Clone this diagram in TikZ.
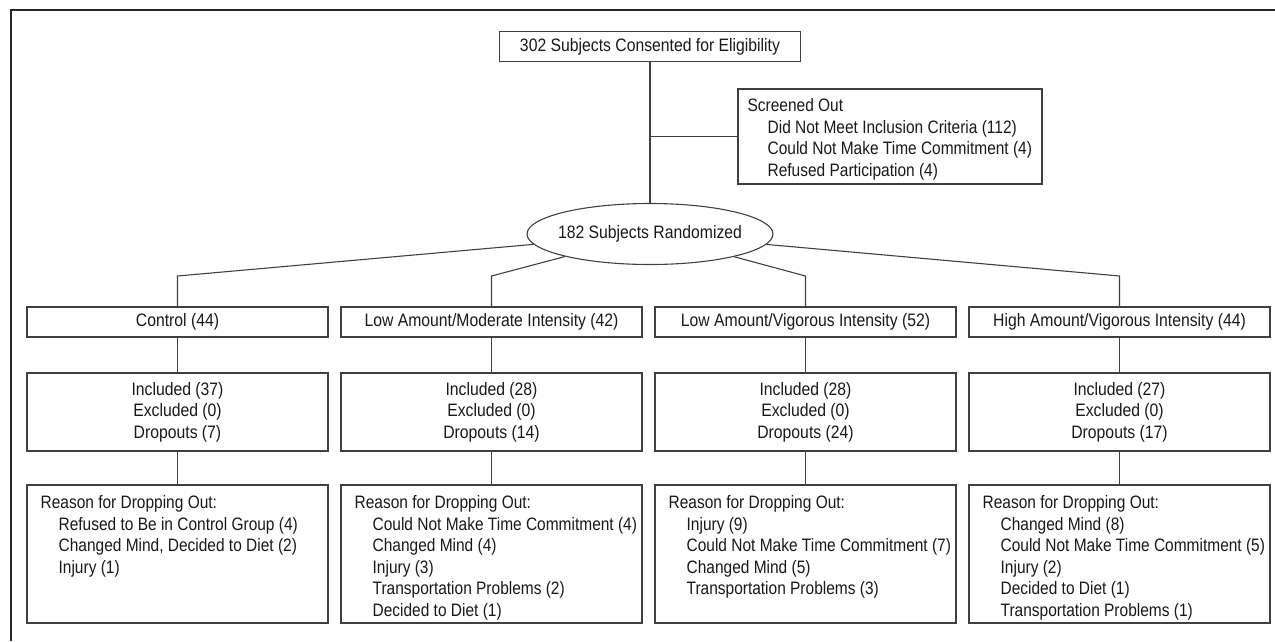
\documentclass[tikz,border=0pt]{standalone}
\usepackage{fontspec}
\setmainfont{Liberation Sans}[FakeStretch=0.875]
\newfontfamily\listfont{Liberation Sans}[FakeStretch=0.86]
\usetikzlibrary{shapes.geometric}
\tikzset{
  boxnode/.style={draw=black!75, line width=1.1pt, minimum width=301pt, minimum height=30pt, inner sep=0pt, align=center, text=black!90, font=\fontsize{18}{21.5}\selectfont},
  ovalnode/.style={ellipse, draw=black!75, line width=1.1pt, minimum width=246pt, minimum height=61pt, inner xsep=-30pt, inner ysep=0pt, text=black!90, font=\fontsize{18}{21.5}\selectfont},
  listtext/.style={anchor=north west, align=left, inner sep=0pt, text=black!90, font=\listfont\fontsize{18}{21.5}\selectfont},
  linkline/.style={draw=black!75, line width=1.1pt}
}

\begin{document}
\begin{tikzpicture}[x=1pt,y=-1pt]
\useasboundingbox (0,0) rectangle (1275,641);

%Frame lines
\draw [line width=2pt, draw=black!85] (1275,10) -- (11,10) -- (11,641);

% Text Node
\node [boxnode] (consent) at (650,46.5) {302 Subjects Consented for Eligibility};
%Shape: Rectangle
\node [boxnode, minimum width=304pt, minimum height=95pt] (screen) at (890,136.5) {};
% Text Node
\node [listtext] (screentext) at ([shift={(10,10)}]screen.north west) {Screened Out\\
  \hspace*{20pt}Did Not Meet Inclusion Criteria (112)\\
  \hspace*{20pt}Could Not Make Time Commitment (4)\\
  \hspace*{20pt}Refused Participation (4)};
% Text Node
\node [ovalnode] (rand) at (650,234) {182 Subjects Randomized};

%Straight Lines
\draw [linkline] (consent) -- (rand);
\draw [linkline] (screen.west) -- (screen.west -| consent.south);

%Corners of the branches
\coordinate (k1) at (177.5,276);
\coordinate (k2) at (491.5,276);
\coordinate (k3) at (805.5,276);
\coordinate (k4) at (1119.5,276);

% Text Node
\node [boxnode] (g1) at (177.5,322) {Control (44)};
% Text Node
\node [boxnode] (g2) at (491.5,322) {Low Amount/Moderate Intensity (42)};
% Text Node
\node [boxnode] (g3) at (805.5,322) {Low Amount/Vigorous Intensity (52)};
% Text Node
\node [boxnode] (g4) at (1119.5,322) {High Amount/Vigorous Intensity (44)};

% Text Node
\node [boxnode, minimum height=78pt] (n1) at (177.5,412) {Included (37)\\Excluded (0)\\Dropouts (7)};
% Text Node
\node [boxnode, minimum height=78pt] (n2) at (491.5,412) {Included (28)\\Excluded (0)\\Dropouts (14)};
% Text Node
\node [boxnode, minimum height=78pt] (n3) at (805.5,412) {Included (28)\\Excluded (0)\\Dropouts (24)};
% Text Node
\node [boxnode, minimum height=78pt] (n4) at (1119.5,412) {Included (27)\\Excluded (0)\\Dropouts (17)};

%Shape: Rectangle
\node [boxnode, minimum height=138pt] (r1) at (177.5,554) {};
%Shape: Rectangle
\node [boxnode, minimum height=138pt] (r2) at (491.5,554) {};
%Shape: Rectangle
\node [boxnode, minimum height=138pt] (r3) at (805.5,554) {};
%Shape: Rectangle
\node [boxnode, minimum height=138pt] (r4) at (1119.5,554) {};

% Text Node
\node [listtext] (r1t) at ([shift={(14,11)}]r1.north west) {Reason for Dropping Out:\\
  \hspace*{18pt}Refused to Be in Control Group (4)\\
  \hspace*{18pt}Changed Mind, Decided to Diet (2)\\
  \hspace*{18pt}Injury (1)};
% Text Node
\node [listtext] (r2t) at ([shift={(14,11)}]r2.north west) {Reason for Dropping Out:\\
  \hspace*{18pt}Could Not Make Time Commitment (4)\\
  \hspace*{18pt}Changed Mind (4)\\
  \hspace*{18pt}Injury (3)\\
  \hspace*{18pt}Transportation Problems (2)\\
  \hspace*{18pt}Decided to Diet (1)};
% Text Node
\node [listtext] (r3t) at ([shift={(14,11)}]r3.north west) {Reason for Dropping Out:\\
  \hspace*{18pt}Injury (9)\\
  \hspace*{18pt}Could Not Make Time Commitment (7)\\
  \hspace*{18pt}Changed Mind (5)\\
  \hspace*{18pt}Transportation Problems (3)};
% Text Node
\node [listtext] (r4t) at ([shift={(14,11)}]r4.north west) {Reason for Dropping Out:\\
  \hspace*{18pt}Changed Mind (8)\\
  \hspace*{18pt}Could Not Make Time Commitment (5)\\
  \hspace*{18pt}Injury (2)\\
  \hspace*{18pt}Decided to Diet (1)\\
  \hspace*{18pt}Transportation Problems (1)};

%Straight Lines
\draw [linkline] (rand) -- (k1) -- (g1);
\draw [linkline] (rand) -- (k2) -- (g2);
\draw [linkline] (rand) -- (k3) -- (g3);
\draw [linkline] (rand) -- (k4) -- (g4);
\draw [linkline] (g1) -- (n1);
\draw [linkline] (g2) -- (n2);
\draw [linkline] (g3) -- (n3);
\draw [linkline] (g4) -- (n4);
\draw [linkline] (n1) -- (r1);
\draw [linkline] (n2) -- (r2);
\draw [linkline] (n3) -- (r3);
\draw [linkline] (n4) -- (r4);

\end{tikzpicture}
\end{document}
